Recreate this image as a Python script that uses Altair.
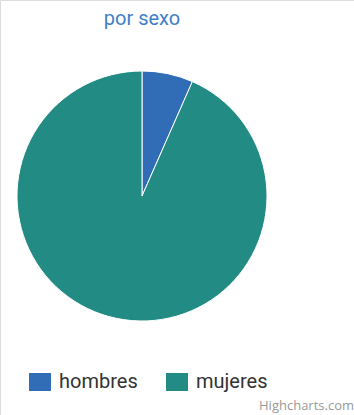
import altair as alt
import pandas as pd

categories = ["hombres", "mujeres"]
values = [6.6, 93.4]
colors = ["#306db6", "#228b84"]
title_text = "por sexo"
credit_text = "Highcharts.com"

df = pd.DataFrame({"sexo": categories, "valor": values})

pie = alt.Chart(df).mark_arc(stroke="white", strokeWidth=1, radius=125).encode(
    theta=alt.Theta("valor:Q", stack=True),
    color=alt.Color(
        "sexo:N",
        scale=alt.Scale(domain=categories, range=colors),
        legend=alt.Legend(
            title=None,
            orient="none",
            legendX=29,
            legendY=371,
            direction="horizontal",
            symbolType="M-1,-0.82H1V0.82H-1Z",
            symbolSize=484,
            symbolStrokeWidth=0,
            symbolOpacity=1,
            labelFont="Roboto",
            labelFontSize=20,
            labelColor="#333333",
            labelOffset=8,
            columnPadding=28,
            padding=0,
        ),
    ),
    order=alt.Order("sexo:N"),
    x=alt.value(142),
    y=alt.value(196),
)

title = alt.Chart(pd.DataFrame({"t": [title_text]})).mark_text(
    font="Roboto", fontSize=20, color="#4080c8", align="center", baseline="middle"
).encode(text="t:N", x=alt.value(142), y=alt.value(19))

credit = alt.Chart(pd.DataFrame({"t": [credit_text]})).mark_text(
    font="Open Sans", fontSize=13, color="#999999", align="right", baseline="alphabetic"
).encode(text="t:N", x=alt.value(354), y=alt.value(410))

chart = alt.layer(pie, title, credit).properties(
    width=354, height=415, padding=0, autosize=alt.AutoSizeParams(type="none")
).configure_view(stroke=None).configure(background="white")

chart.save("out.html", embed_options={"renderer": "svg", "actions": False})
